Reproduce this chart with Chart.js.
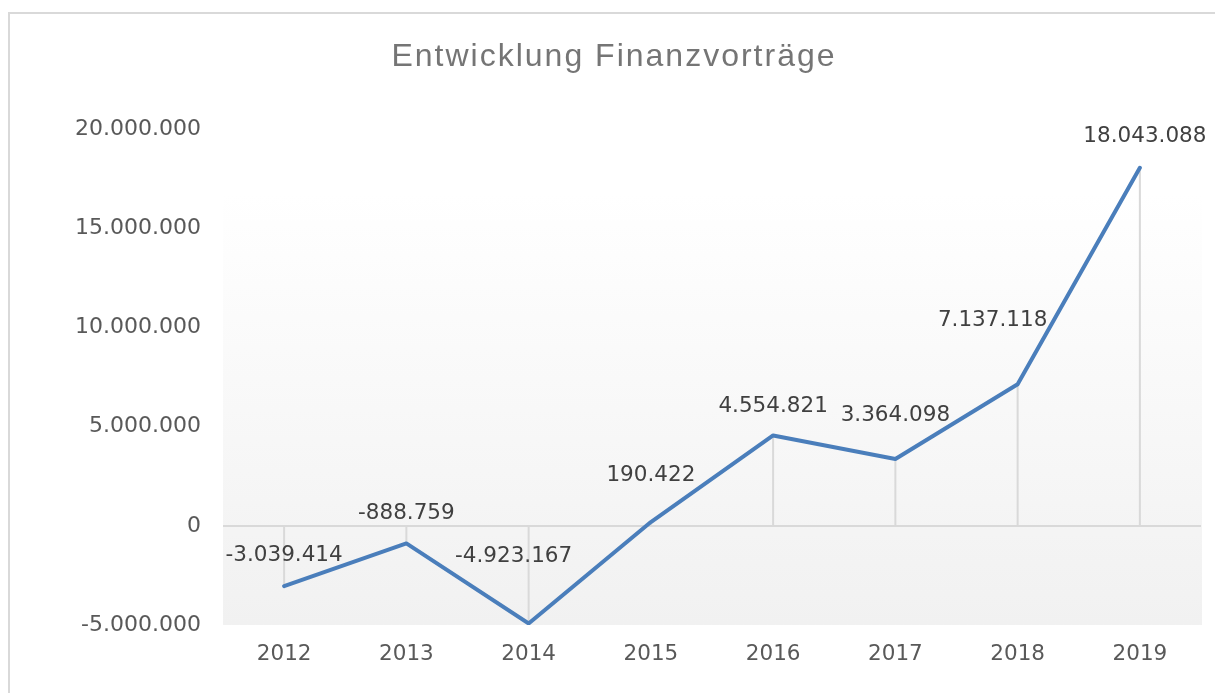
<!DOCTYPE html>
<html lang="de">
<head>
  <meta charset="UTF-8" />
  <title>Entwicklung Finanzvorträge</title>
  <script src="https://cdn.jsdelivr.net/npm/chart.js"></script>
  <style>
    html, body { margin: 0; padding: 0; background: #fff; }
    #wrap { width: 1215px; height: 693px; }
  </style>
</head>
<body>
  <div id="wrap"><canvas id="grafico" width="1215" height="693"></canvas></div>

  <script>
    const jahre = ["2012", "2013", "2014", "2015", "2016", "2017", "2018", "2019"];
    const finanzvortraege = [-3039414, -888759, -4923167, 190422, 4554821, 3364098, 7137118, 18043088];
    const yTicks = [-5000000, 0, 5000000, 10000000, 15000000, 20000000];

    // Verschiebung der Datenbeschriftungen (px), wie im Original von Hand gesetzt
    const labelShift = [[0, -31], [0, -30], [-15, -67], [0, -47], [0, -29], [0, -44], [-25, -64], [5, -31]];

    const fmt = v => Math.round(v).toString().replace(/\B(?=(\d{3})+(?!\d))/g, ".");

    const schriftart = "'DejaVu Sans', sans-serif";

    const rahmenPlugin = {
      id: "rahmen",
      beforeDraw(chart) {
        const { ctx, chartArea: a } = chart;
        ctx.save();
        // Rahmen des Diagrammbereichs
        ctx.strokeStyle = "#d9d9d9";
        ctx.lineWidth = 2;
        ctx.beginPath();
        ctx.moveTo(9, 700);
        ctx.lineTo(9, 13);
        ctx.lineTo(1220, 13);
        ctx.stroke();
        // Zeichnungsfläche mit Verlauf
        const top = a.top + (a.bottom - a.top) * 0.13;
        const g = ctx.createLinearGradient(0, top, 0, a.bottom);
        g.addColorStop(0, "#ffffff");
        g.addColorStop(1, "#f1f1f1");
        ctx.fillStyle = g;
        ctx.fillRect(a.left, top, a.right - a.left + 1, a.bottom - top);
        // Titel
        ctx.fillStyle = "#757575";
        ctx.font = "32px 'Liberation Sans', sans-serif";
        ctx.letterSpacing = "2px";
        ctx.textAlign = "center";
        ctx.textBaseline = "middle";
        ctx.fillText("Entwicklung Finanzvorträge", 614, 57);
        ctx.restore();
      },
      beforeDatasetsDraw(chart) {
        const { ctx, scales } = chart;
        const y0 = scales.y.getPixelForValue(0);
        ctx.save();
        ctx.strokeStyle = "#d9d9d9";
        ctx.lineWidth = 2;
        finanzvortraege.forEach((v, i) => {
          const x = scales.x.getPixelForValue(i);
          ctx.beginPath();
          ctx.moveTo(x, y0);
          ctx.lineTo(x, scales.y.getPixelForValue(v));
          ctx.stroke();
        });
        ctx.restore();
      },
      afterDatasetsDraw(chart) {
        const { ctx } = chart;
        const meta = chart.getDatasetMeta(0);
        ctx.save();
        ctx.fillStyle = "#404040";
        ctx.font = "21.5px " + schriftart;
        ctx.textAlign = "center";
        ctx.textBaseline = "middle";
        meta.data.forEach((p, i) => {
          const s = labelShift[i];
          ctx.fillText(fmt(finanzvortraege[i]), p.x + s[0], p.y + s[1]);
        });
        ctx.restore();
      }
    };

    new Chart(document.getElementById("grafico"), {
      type: "line",
      data: {
        labels: jahre,
        datasets: [{
          data: finanzvortraege,
          borderColor: "#4a7ebb",
          borderWidth: 4,
          pointRadius: 0,
          tension: 0,
          borderJoinStyle: "round",
          borderCapStyle: "round"
        }]
      },
      options: {
        responsive: false,
        animation: false,
        layout: { padding: { top: 129, right: 14, left: 0, bottom: 0 } },
        plugins: { legend: { display: false }, tooltip: { enabled: false }, title: { display: false } },
        scales: {
          x: {
            offset: true,
            grid: { display: false, drawTicks: false },
            border: { display: false },
            ticks: { color: "#595959", font: { family: schriftart, size: 21.5 }, padding: 17 },
            afterFit(scale) { scale.height = 68; }
          },
          y: {
            min: -5000000,
            max: 20000000,
            afterBuildTicks(scale) { scale.ticks = yTicks.map(v => ({ value: v })); },
            grid: {
              drawTicks: false,
              color: c => (c.tick && c.tick.value === 0 ? "#d9d9d9" : "rgba(0,0,0,0)"),
              lineWidth: 2
            },
            border: { display: false },
            ticks: {
              color: "#595959",
              font: { family: schriftart, size: 22 },
              padding: 22,
              callback: v => fmt(v)
            },
            afterFit(scale) { scale.width = 223; }
          }
        }
      },
      plugins: [rahmenPlugin]
    });
  </script>
</body>
</html>
